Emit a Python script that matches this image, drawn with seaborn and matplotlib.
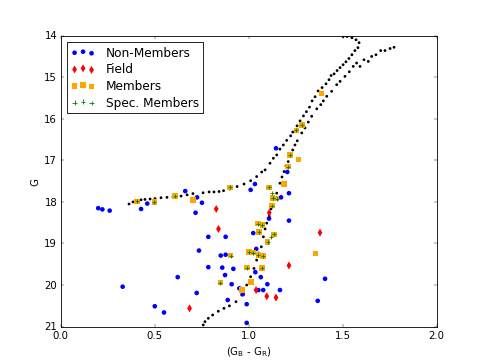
import matplotlib
matplotlib.use("Agg")
import matplotlib.pyplot as plt
import seaborn as sns

# Colour index (G_B - G_R) and magnitude G
nonmem_col = [0.20, 0.222, 0.261, 0.428, 0.461, 0.663, 0.718, 0.726, 0.752, 1.011,
              1.034, 0.786, 0.878, 1.146, 1.206, 1.215, 1.173, 1.109, 1.215, 1.025,
              1.041, 0.736, 0.852, 0.878, 0.786, 0.860, 0.919, 0.875, 0.623, 0.910,
              0.724, 0.951, 0.969, 1.036, 1.065, 1.100, 1.052, 1.078, 1.167, 0.889,
              0.990, 0.990, 0.501, 0.550, 1.407, 1.368, 0.330]
nonmem_g = [18.15, 18.18, 18.21, 18.17, 18.04, 17.74, 18.26, 17.89, 18.02, 17.71,
            17.57, 18.84, 18.84, 16.71, 17.28, 17.79, 17.89, 18.40, 18.45, 18.75,
            19.13, 19.17, 19.29, 19.27, 19.57, 19.58, 19.61, 19.76, 19.81, 19.98,
            20.19, 20.08, 20.22, 19.69, 19.81, 19.98, 20.12, 20.12, 20.12, 20.36,
            20.46, 20.91, 20.51, 20.66, 19.85, 20.38, 20.04]

field_col = [0.828, 0.840, 1.110, 1.380, 1.215, 1.040, 1.097, 1.146, 0.686]
field_g = [18.17, 18.65, 18.26, 18.74, 19.53, 20.12, 20.27, 20.30, 20.56]

mem_col = [0.405, 0.499, 0.609, 0.704, 0.901, 1.255, 1.286, 1.389, 1.221, 1.265,
           1.211, 1.190, 1.110, 1.128, 1.149, 1.126, 1.049, 1.074, 1.056, 1.136,
           1.101, 0.904, 1.002, 1.025, 1.052, 1.078, 0.990, 1.072, 1.357, 1.013,
           0.964, 0.850]
mem_g = [17.99, 18.00, 17.86, 17.96, 17.65, 16.28, 16.15, 15.39, 16.87, 16.98,
         17.15, 17.57, 17.65, 17.90, 17.92, 18.09, 18.52, 18.55, 18.72, 18.78,
         18.96, 19.29, 19.20, 19.22, 19.28, 19.30, 19.58, 19.59, 19.24, 19.93,
         20.12, 19.94]

spec_col = [0.405, 0.499, 0.609, 0.901, 1.255, 1.286, 1.221, 1.211, 1.110, 1.128,
            1.149, 1.126, 1.049, 1.074, 1.056, 1.136, 1.101, 0.904, 1.002, 1.025,
            1.052, 1.078, 0.990, 1.072, 0.850, 1.123, 1.118]
spec_g = [17.99, 18.00, 17.86, 17.65, 16.28, 16.15, 16.87, 17.15, 17.65, 17.90,
          17.92, 18.09, 18.52, 18.55, 18.72, 18.78, 18.96, 19.29, 19.20, 19.22,
          19.28, 19.30, 19.58, 19.59, 19.94, 17.79, 18.85]

# isochrone / sequence dots
iso1_col = [0.364, 0.385, 0.406, 0.428, 0.449, 0.476, 0.502, 0.534, 0.566, 0.598,
            0.641, 0.673, 0.704, 0.758, 0.790, 0.816, 0.843, 0.867, 0.901, 0.939,
            0.976, 1.011, 1.043, 1.070, 1.088, 1.114, 1.132, 1.150, 1.167, 1.185,
            1.203, 1.224, 1.235, 1.258, 1.274, 1.292, 1.308, 1.324, 1.338, 1.354,
            1.370, 1.391, 1.412, 1.428, 1.439, 1.455, 1.471, 1.487, 1.503, 1.518,
            1.534, 1.550, 1.566, 1.582, 1.588, 1.572, 1.550, 1.524, 1.503]
iso1_g = [18.05, 18.00, 17.98, 17.95, 17.94, 17.93, 17.92, 17.90, 17.89, 17.88,
          17.86, 17.83, 17.80, 17.78, 17.76, 17.76, 17.75, 17.73, 17.69, 17.63,
          17.57, 17.49, 17.39, 17.28, 17.23, 17.07, 16.95, 16.87, 16.73, 16.63,
          16.52, 16.41, 16.32, 16.17, 16.05, 15.93, 15.83, 15.72, 15.57, 15.47,
          15.33, 15.25, 15.16, 15.06, 14.96, 14.92, 14.84, 14.77, 14.70, 14.63,
          14.55, 14.46, 14.36, 14.29, 14.17, 14.10, 14.05, 14.02, 14.02]

iso2_col = [0.759, 0.768, 0.786, 0.809, 0.839, 0.869, 0.898, 0.933, 0.964, 0.990,
            1.011, 1.029, 1.043, 1.053, 1.068, 1.079, 1.088, 1.097, 1.110, 1.119,
            1.132, 1.150, 1.167, 1.178, 1.189, 1.199, 1.211, 1.223, 1.235, 1.247,
            1.259, 1.283, 1.300, 1.318, 1.336, 1.363, 1.384, 1.398, 1.416, 1.442,
            1.469, 1.487, 1.513, 1.536, 1.557, 1.575, 1.593, 1.614, 1.637, 1.655,
            1.678, 1.703, 1.726, 1.753, 1.774]
iso2_g = [20.96, 20.88, 20.80, 20.72, 20.63, 20.56, 20.50, 20.40, 20.24, 20.00,
          19.80, 19.60, 19.40, 19.23, 19.08, 18.84, 18.65, 18.51, 18.34, 18.17,
          17.95, 17.79, 17.55, 17.40, 17.27, 17.13, 17.03, 16.89, 16.75, 16.63,
          16.53, 16.34, 16.22, 16.08, 15.94, 15.76, 15.66, 15.57, 15.46, 15.34,
          15.18, 15.10, 14.98, 14.87, 14.74, 14.66, 14.74, 14.58, 14.62, 14.50,
          14.46, 14.36, 14.36, 14.31, 14.28]

# old matplotlib look
plt.style.use("classic")
plt.rcParams["font.family"] = ["DejaVu Sans"]
plt.rcParams["mathtext.default"] = "regular"

fig, ax = plt.subplots(figsize=(8, 6), dpi=60.625)
fig.patch.set_facecolor("white")
fig.subplots_adjust(left=0.125, right=0.9, bottom=0.1, top=0.9)

"Isochrones"
for cc, gg in ((iso1_col, iso1_g), (iso2_col, iso2_g)):
    sns.scatterplot(x=cc, y=gg, color="k", s=11, marker="o",
                    edgecolor="none", legend=False, ax=ax)

"Groups"
sns.scatterplot(x=nonmem_col, y=nonmem_g, color="#0000ff", marker="o", s=30,
                edgecolor="none", label="Non-Members", ax=ax)
sns.scatterplot(x=field_col, y=field_g, color="#ff0000", marker="d", s=45,
                edgecolor="none", label="Field", ax=ax)
sns.scatterplot(x=mem_col, y=mem_g, color="#ffa500", marker="s", s=45,
                edgecolor="none", label="Members", ax=ax)
sns.scatterplot(x=spec_col, y=spec_g, color="#008000", marker="+", s=30,
                linewidth=1.0, label="Spec. Members", ax=ax)

ax.set_xlim(0, 2.0)
ax.set_ylim(21, 14)
ax.set_xticks([0.0, 0.5, 1.0, 1.5, 2.0])
ax.set_yticks(range(14, 22))
ax.set_xlabel("(G$_B$ - G$_R$)")
ax.set_ylabel("G")

ax.legend(loc="upper left", scatterpoints=3, fontsize="large",
          scatteryoffsets=[0.375, 0.5, 0.3125], frameon=True, fancybox=False,
          labelspacing=0.3, borderpad=0.35, handletextpad=0.9)

fig.savefig("out.png", dpi=60.625, facecolor="white")
plt.close(fig)
